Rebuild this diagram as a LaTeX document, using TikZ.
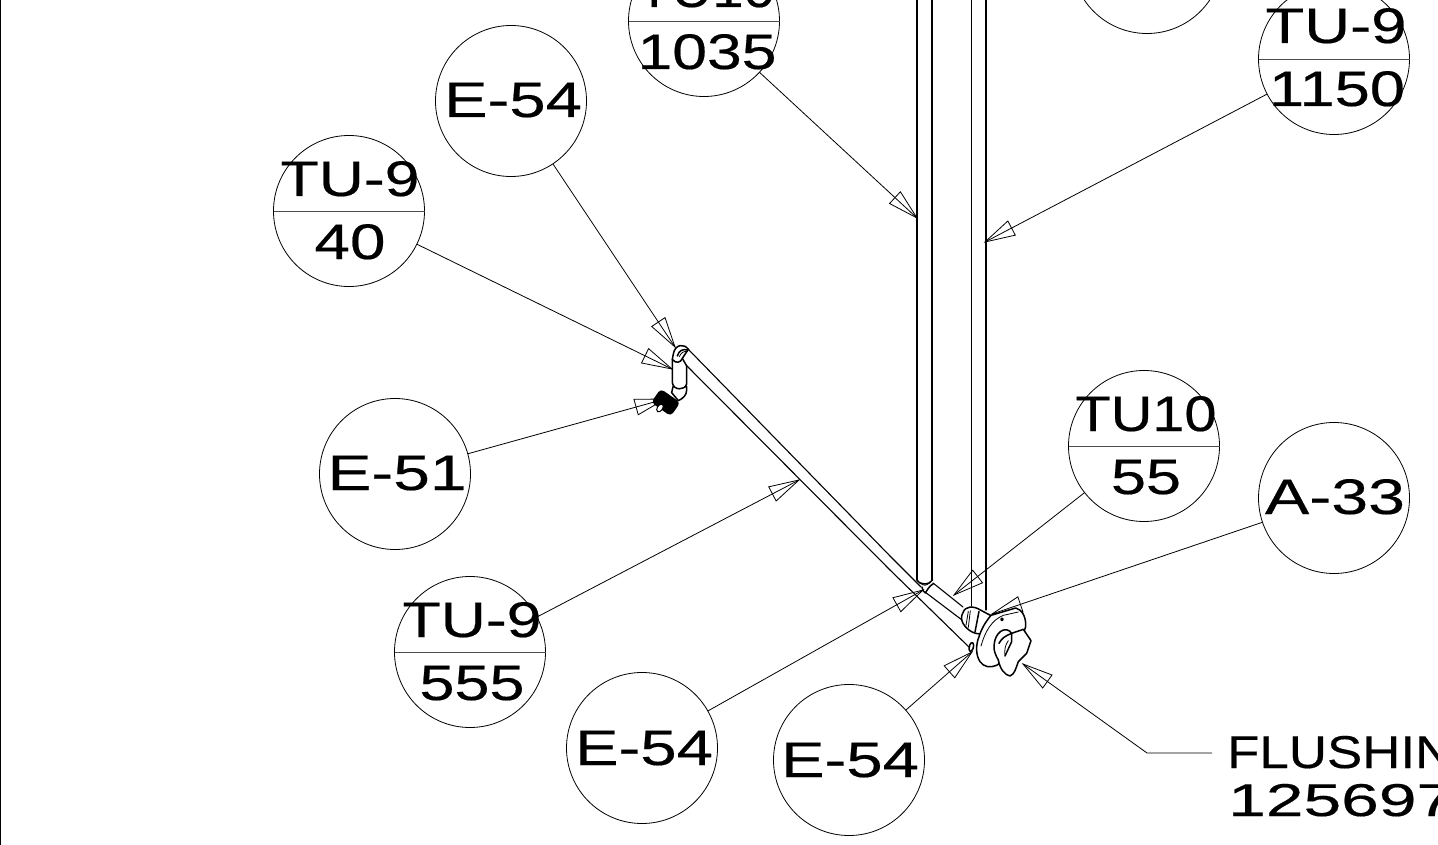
\documentclass[tikz,border=0pt]{standalone}
\usepackage{fontspec}
\usepackage{graphicx}
\newfontfamily\cadfont[FakeBold=0.35]{Liberation Sans}
\usetikzlibrary{calc}
\newcommand{\wide}[2]{\resizebox{#1pt}{\height}{#2}}
\tikzset{
  bubble/.style={circle,draw=black,line width=0.8pt,minimum size=151pt,inner sep=0pt,outer sep=0pt},
  bubbletext/.style={anchor=base,inner sep=0pt,font=\cadfont\fontsize{50}{50}\selectfont},
  notetext/.style={anchor=base west,inner sep=0pt,font=\cadfont\fontsize{46}{46}\selectfont},
  leaderline/.style={draw=black,line width=0.8pt},
  divider/.style={draw=black!70,line width=0.9pt},
  pipe/.style={draw=black,line width=1.1pt,line cap=round,line join=round},
  detail/.style={draw=black,line width=1.5pt,line cap=round,line join=round},
  fine/.style={draw=black,line width=0.8pt,line cap=round,line join=round},
}
\newcommand{\leader}[2]{%
  \draw[leaderline] (#1) -- (#2);
  \draw[leaderline,line join=miter] (#2) -- ($(#2)!30pt!(#1)!8pt!90:(#2)$) -- ($(#2)!30pt!(#1)!8pt!-90:(#2)$) -- cycle;
}
\begin{document}
\begin{tikzpicture}[x=1pt,y=-1pt]
\useasboundingbox (0,0) rectangle (1438,845);
\clip (0,0) rectangle (1438,845);
\fill[white] (0,0) rectangle (1438,845);
\draw[line width=1.2pt] (0.6,0) -- (0.6,845);

% tips
\coordinate (t1) at (675,347);
\coordinate (t2) at (672,369);
\coordinate (t3) at (665,399);
\coordinate (t4) at (799,480);
\coordinate (t5) at (923,590);
\coordinate (t6) at (972,652);
\coordinate (t7) at (954,595);
\coordinate (t8) at (992,614);
\coordinate (t9) at (1023,664);
\coordinate (t10) at (917,218);
\coordinate (t11) at (985,242);
\coordinate (bend) at (1147,753);
\coordinate (noteend) at (1212,753);

% bubbles
\node[bubble] (a) at (511,101) {};
\node[bubble] (b) at (349,211) {};
\node[bubble] (c) at (395,474) {};
\node[bubble] (d) at (470,652) {};
\node[bubble] (e) at (642,748) {};
\node[bubble] (f) at (849,760) {};
\node[bubble] (g) at (1144,446) {};
\node[bubble] (h) at (1334,498) {};
\node[bubble] (i) at (1334,59) {};
\node[bubble] (j) at (704,21) {};
\node[bubble] (k) at (1147,-42) {};

\draw[divider] (b.west) -- (b.east);
\draw[divider] (d.west) -- (d.east);
\draw[divider] (g.west) -- (g.east);
\draw[divider] (i.west) -- (i.east);
\draw[divider] (j.west) -- (j.east);

\node[bubbletext] (at) at (513,117) {\wide{138}{E-54}};
\node[bubbletext] (bt) at (350,196) {\wide{139}{TU-9}};
\node[bubbletext] (bb) at (350,259) {\wide{71}{40}};
\node[bubbletext] (ct) at (397,490) {\wide{139}{E-51}};
\node[bubbletext] (dt) at (472,637) {\wide{139}{TU-9}};
\node[bubbletext] (db) at (472,700) {\wide{105}{555}};
\node[bubbletext] (et) at (644,765) {\wide{138}{E-54}};
\node[bubbletext] (ft) at (850,777) {\wide{138}{E-54}};
\node[bubbletext] (gt) at (1146,431) {\wide{141}{TU10}};
\node[bubbletext] (gb) at (1146,494) {\wide{70}{55}};
\node[bubbletext] (ht) at (1335,514) {\wide{140}{A-33}};
\node[bubbletext] (it) at (1336,43) {\wide{141}{TU-9}};
\node[bubbletext] (ib) at (1337,106) {\wide{136}{1150}};
\node[bubbletext] (jt) at (706,7) {\wide{138}{TU10}};
\node[bubbletext] (jb) at (707,69) {\wide{139}{1035}};
\node[notetext] (n1) at (1227,768) {\wide{226}{FLUSHIN}};
\node[notetext] (n2) at (1228,816) {\wide{226}{125697}};

% leaders
\leader{a}{t1}
\leader{b}{t2}
\leader{c}{t3}
\leader{d}{t4}
\leader{e}{t5}
\leader{f}{t6}
\leader{g}{t7}
\leader{h}{t8}
\leader{j}{t10}
\leader{i}{t11}
\draw[leaderline] (noteend) -- (bend) -- (t9);
\draw[leaderline,line join=miter] (t9) -- ($(t9)!30pt!(bend)!8pt!90:(t9)$) -- ($(t9)!30pt!(bend)!8pt!-90:(t9)$) -- cycle;

% vertical pipes
\draw[pipe] (917,0) -- (917,580);
\draw[pipe] (932,0) -- (932,580);
\draw[pipe] (971.5,0) -- (971.5,606);
\draw[pipe] (986,0) -- (986,610);

% diagonal pipe
\draw[pipe] (688,349) -- (890,556) -- (921,587);
\draw[pipe] (686,365) -- (890,570) -- (972,650);

% lower tee detail (zoom frame)
\begin{scope}[shift={(910,565)},x=0.3333pt,y=-0.3333pt]
  \draw[detail] (21,46) .. controls (28,60) and (60,62) .. (68,44);
  \draw[fine] (30,52) .. controls (38,64) and (52,64) .. (60,50);
  \draw[detail] (36,66) .. controls (38,76) and (42,82) .. (46,84) .. controls (50,78) and (58,62) .. (70,56);
\end{scope}
\draw[pipe] (933,583) -- (963,607);
\draw[pipe] (925,592) -- (962,620);

% flange detail (zoom frame)
\begin{scope}[shift={(955,600)},x=0.3333pt,y=-0.3333pt]
  % stud
  \filldraw[detail,fill=white] (42,148) .. controls (42,128) and (55,120) .. (56,136) .. controls (56,150) and (44,162) .. (42,148) -- cycle;
  % nut
  \filldraw[detail,fill=white] (24,38) .. controls (30,18) and (55,16) .. (78,31) -- (110,48) -- (84,100)
     .. controls (65,106) and (38,94) .. (24,70) .. controls (18,58) and (18,48) .. (24,38) -- cycle;
  \draw[fine] (40,34) -- (33,76) (46,32) -- (40,82);
  \draw[detail] (72,34) -- (60,96);
  % flange
  \filldraw[detail,fill=white] (108,46) -- (182,24) .. controls (200,28) and (214,50) .. (212,80)
     -- (190,150) -- (125,196) .. controls (105,205) and (85,200) .. (75,185)
     .. controls (62,165) and (62,135) .. (72,110) .. controls (80,85) and (92,65) .. (108,46) -- cycle;
  \draw[fine] (78,138) .. controls (90,95) and (110,60) .. (145,46) -- (190,36);
  \filldraw[detail,fill=white] (141,58) circle[radius=3.5];
  % handle
  \filldraw[detail,fill=white] (120,120) .. controls (128,92) and (155,78) .. (170,100)
     -- (205,88) -- (228,122) -- (215,160) -- (190,185) .. controls (182,205) and (180,222) .. (165,228)
     .. controls (150,225) and (135,208) .. (130,180) .. controls (122,165) and (112,150) .. (120,120) -- cycle;
  \draw[detail] (132,130) .. controls (140,115) and (150,108) .. (170,100);
  \draw[detail] (150,168) -- (170,125) -- (170,100);
  \draw[fine] (150,168) .. controls (148,150) and (150,135) .. (160,122);
\end{scope}

% elbow detail (zoom frame)
\begin{scope}[shift={(645,340)},x=0.3333pt,y=-0.3333pt]
  % lower elbow
  \filldraw[detail,fill=white] (84,140) -- (80,158) -- (100,182) .. controls (115,175) and (125,165) .. (125,150) -- (125,140) -- cycle;
  % vertical
  \filldraw[detail,fill=white] (82,58) -- (82,128) .. controls (85,152) and (120,152) .. (125,132) -- (125,78) -- (112,55) -- cycle;
  % collar
  \filldraw[detail,fill=white] (130,28) .. controls (118,10) and (90,12) .. (85,42) -- (82,58)
     .. controls (92,72) and (108,68) .. (112,55) -- cycle;
  \draw[detail] (97,48) .. controls (102,32) and (112,26) .. (127,30);
  \draw[fine] (103,50) .. controls (108,38) and (116,33) .. (128,34);
  % threaded nipple
  \fill[black,rotate around={-35:(63,188)},rounded corners=4pt] (26,163) rectangle (98,213);
  \filldraw[fill=white,draw=black,line width=1pt,rotate around={-35:(45,204)}] (45,204) ellipse[x radius=8,y radius=13];
\end{scope}
\end{tikzpicture}
\end{document}
